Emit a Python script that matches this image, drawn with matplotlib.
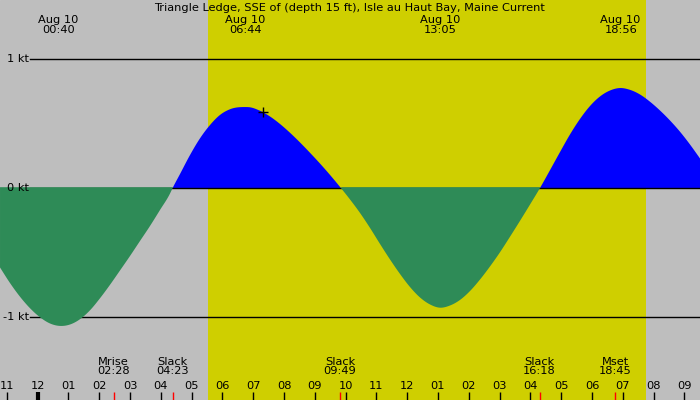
import numpy as np
import matplotlib
matplotlib.use("Agg")
import matplotlib.pyplot as plt
import matplotlib.transforms as mtransforms

####################### Data (hours after midnight Aug 10, knots) #########################

title = "Triangle Ledge, SSE of (depth 15 ft), Isle au Haut Bay, Maine Current"

hours = [-1.224, -0.900, -0.575, -0.250, 0.075, 0.399, 0.724, 1.049, 1.374, 1.699,
         2.023, 2.348, 2.673, 2.998, 3.322, 3.647, 3.972, 4.297, 4.383, 4.622,
         4.947, 5.271, 5.596, 5.921, 6.246, 6.733, 6.895, 7.220, 7.544, 7.869,
         8.194, 8.519, 8.844, 9.168, 9.493, 9.818, 10.143, 10.467, 10.792, 11.117,
         11.442, 11.766, 12.091, 12.416, 12.741, 13.066, 13.390, 13.715, 14.040, 14.365,
         14.689, 15.014, 15.339, 15.664, 15.989, 16.313, 16.638, 16.963, 17.287, 17.612,
         17.937, 18.262, 18.587, 18.912, 19.236, 19.561, 19.886, 20.211, 20.535, 20.860,
         21.185, 21.510]
speed = [-0.615, -0.735, -0.841, -0.930, -1.000, -1.048, -1.067, -1.056, -1.015, -0.946,
         -0.853, -0.749, -0.638, -0.526, -0.410, -0.294, -0.170, -0.043, 0.0, 0.108,
         0.255, 0.384, 0.487, 0.565, 0.609, 0.626, 0.624, 0.597, 0.553, 0.495,
         0.427, 0.352, 0.272, 0.189, 0.101, 0.008, -0.089, -0.193, -0.309, -0.433,
         -0.553, -0.665, -0.766, -0.847, -0.901, -0.926, -0.909, -0.866, -0.797, -0.708,
         -0.607, -0.497, -0.377, -0.254, -0.128, 0.0, 0.138, 0.278, 0.414, 0.534,
         0.634, 0.708, 0.754, 0.773, 0.759, 0.723, 0.667, 0.599, 0.522, 0.435,
         0.336, 0.228]

# max / min current
peak_hours = [0.667, 6.733, 13.083, 18.933]
peak_labels = ["Aug 10\n00:40", "Aug 10\n06:44", "Aug 10\n13:05", "Aug 10\n18:56"]

# slack water and moon events
event_hours = [2.467, 4.383, 9.817, 16.300, 18.750]
event_labels = ["Mrise\n02:28", "Slack\n04:23", "Slack\n09:49", "Slack\n16:18", "Mset\n18:45"]

sunrise, sunset = 5.53, 19.75
now_hour = 7.33

tick_hours = list(range(-1, 22))
tick_labels = ["11", "12", "01", "02", "03", "04", "05", "06", "07", "08", "09", "10",
               "11", "12", "01", "02", "03", "04", "05", "06", "07", "08", "09"]

kt_levels = [1, 0, -1]
kt_labels = ["1 kt", "0 kt", "-1 kt"]

####################### Smooth drawing through the read points #########################

t = np.array(hours)
v = np.array(speed)
dv = np.gradient(v, t)
ts, vs = [], []
for i in range(len(t) - 1):
    h = t[i + 1] - t[i]
    s = np.linspace(0, 1, 12, endpoint=False)
    h00 = 2 * s**3 - 3 * s**2 + 1
    h10 = s**3 - 2 * s**2 + s
    h01 = -2 * s**3 + 3 * s**2
    h11 = s**3 - s**2
    ts.append(t[i] + s * h)
    vs.append(h00 * v[i] + h10 * h * dv[i] + h01 * v[i + 1] + h11 * h * dv[i + 1])
ts.append([t[-1]])
vs.append([v[-1]])
ts = np.concatenate(ts)
vs = np.concatenate(vs)

####################### Figure #########################

plt.rcParams["font.family"] = "DejaVu Sans"
fs = 8.2

fig = plt.figure(figsize=(7, 4), dpi=100)
ax = fig.add_axes([0, 0, 1, 1])
ax.set_xlim(-1.2245, 21.509)
ax.set_ylim(-1.640, 1.454)
ax.axis("off")
ax.add_patch(plt.Rectangle((0, 0), 1, 1, transform=ax.transAxes, color="#bebebe", zorder=0))
ax.axvspan(sunrise, sunset, color="#cfcf00", zorder=0.5, lw=0)

ax.fill_between(ts, vs, 0, where=vs >= 0, interpolate=True, color="#0000ff", lw=0, zorder=2)
ax.fill_between(ts, vs, 0.006, where=vs <= 0, interpolate=True, color="#2e8b57", lw=0, zorder=4)

# kt grid lines and labels
x0 = -1.2245 + 30 / 30.79
for lev, lab in zip(kt_levels, kt_labels):
    ax.plot([x0, 21.6], [lev, lev], color="black", lw=1, zorder=3)
    ax.text(x0 - 0.03, lev, lab, ha="right", va="center", fontsize=fs, zorder=5)

ax.plot([now_hour], [np.interp(now_hour, ts, vs)], marker="+", color="black",
        markersize=7, mew=1, zorder=6)

bx = mtransforms.blended_transform_factory(ax.transData, ax.transAxes)

ax.text(0.5, 0.981, title, transform=ax.transAxes, ha="center", va="center", fontsize=fs)
for h, lab in zip(peak_hours, peak_labels):
    ax.text(h, 0.938, lab, transform=bx, ha="center", va="center", fontsize=fs,
            linespacing=0.95)

for h, lab in zip(tick_hours, tick_labels):
    ax.plot([h, h], [0, 0.021], transform=bx, color="black",
            lw=3 if h == 0 else 1, solid_capstyle="butt", zorder=5)
    ax.text(h, 0.034, lab, transform=bx, ha="center", va="center", fontsize=fs)

for h, lab in zip(event_hours, event_labels):
    ax.plot([h, h], [0, 0.021], transform=bx, color="red", lw=1,
            solid_capstyle="butt", zorder=5)
    ax.text(h, 0.084, lab, transform=bx, ha="center", va="center", fontsize=fs,
            linespacing=0.95)

fig.savefig("out.png", dpi=100)
